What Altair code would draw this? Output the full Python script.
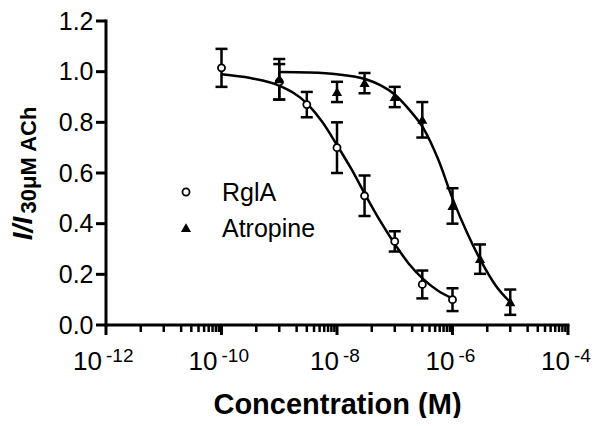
import altair as alt
import pandas as pd

# ---------------- data ----------------
series_names = ["RglA", "Atropine"]

rgla_conc = [1e-10, 1e-9, 3e-9, 1e-8, 3e-8, 1e-7, 3e-7, 1e-6]
rgla_mean = [1.015, 0.96, 0.87, 0.70, 0.51, 0.33, 0.16, 0.10]
rgla_err = [0.075, 0.07, 0.05, 0.10, 0.08, 0.04, 0.055, 0.045]

atro_conc = [1e-9, 1e-8, 3e-8, 1e-7, 3e-7, 1e-6, 3e-6, 1e-5]
atro_mean = [0.97, 0.92, 0.955, 0.90, 0.81, 0.47, 0.26, 0.09]
atro_err = [0.08, 0.04, 0.04, 0.04, 0.07, 0.07, 0.058, 0.05]

# fitted curves
rgla_fit_conc = [1e-10, 3.16e-10, 1e-9, 3.16e-9, 5.62e-9, 1e-8, 1.78e-8, 3.16e-8,
                 5.62e-8, 1e-7, 1.78e-7, 3.16e-7, 5.62e-7, 1e-6]
rgla_fit = [0.99, 0.975, 0.945, 0.87, 0.80, 0.71, 0.615, 0.51,
            0.41, 0.32, 0.24, 0.18, 0.135, 0.105]
atro_fit_conc = [1e-9, 3.16e-9, 1e-8, 3.16e-8, 5.62e-8, 1e-7, 1.78e-7, 3.16e-7,
                 5.62e-7, 1e-6, 1.78e-6, 3.16e-6, 5.62e-6, 1e-5]
atro_fit = [0.999, 0.997, 0.99, 0.97, 0.947, 0.91, 0.85, 0.775,
            0.655, 0.50, 0.365, 0.25, 0.155, 0.09]

y_ticks = [0.0, 0.2, 0.4, 0.6, 0.8, 1.0, 1.2]
x_major_conc = [1e-12, 1e-10, 1e-8, 1e-6, 1e-4]
x_major_exp = ["-12", "-10", "-8", "-6", "-4"]
x_minor_conc = [4e-12, 1e-11, 2e-11, 3e-11, 4e-11, 5e-11, 6e-11, 7e-11, 8e-11, 9e-11,
                4e-10, 1e-9, 2e-9, 3e-9, 4e-9, 5e-9, 6e-9, 7e-9, 8e-9, 9e-9,
                4e-8, 1e-7, 2e-7, 3e-7, 4e-7, 5e-7, 6e-7, 7e-7, 8e-7, 9e-7,
                4e-6, 1e-5, 2e-5, 3e-5, 4e-5, 5e-5, 6e-5, 7e-5, 8e-5, 9e-5]

x_title = "Concentration (M)"
y_title_main = "I/I"
y_title_sub = "30μM ACh"

# ---------------- tables ----------------
pts = pd.DataFrame({
    "conc": rgla_conc + atro_conc,
    "mean": rgla_mean + atro_mean,
    "err": rgla_err + atro_err,
    "series": [series_names[0]] * len(rgla_conc) + [series_names[1]] * len(atro_conc),
})
pts["lo"] = pts["mean"] - pts["err"]
pts["hi"] = pts["mean"] + pts["err"]

fit = pd.DataFrame({
    "conc": rgla_fit_conc + atro_fit_conc,
    "val": rgla_fit + atro_fit,
    "series": [series_names[0]] * len(rgla_fit_conc) + [series_names[1]] * len(atro_fit_conc),
})

major = pd.DataFrame({"conc": x_major_conc, "exp": x_major_exp, "base": ["10"] * 5})
major["long"] = major["exp"].str.len() > 2
major_pos = pd.DataFrame({"tick_c": x_major_conc})
minor = pd.DataFrame({"conc": x_minor_conc})
yt = pd.DataFrame({"tick_v": y_ticks})

# axis frame as two polylines through the scales
frame = pd.DataFrame({
    "fc": [x_major_conc[0], x_major_conc[-1], x_major_conc[0], x_major_conc[0]],
    "fv": [y_ticks[0], y_ticks[0], y_ticks[0], y_ticks[-1]],
    "side": ["x", "x", "y", "y"],
})

W, H = 462, 304
TOP = 13
FONT = "Liberation Sans"
BLACK = "black"

xscale = alt.Scale(type="log", domain=[1e-12, 1e-4], nice=False)
yscale = alt.Scale(domain=[0, 1.2], nice=False, zero=False)

xaxis = alt.Axis(values=x_major_conc, labels=False, tickSize=10, grid=False,
                 domain=False, ticks=True, tickOpacity=0,
                 title=x_title, titleFont=FONT, titleFontSize=29,
                 titleFontWeight="bold", titleBaseline="alphabetic",
                 titleY=88, titleX=W / 2, titleAlign="center", titleColor=BLACK)
yaxis = alt.Axis(values=y_ticks, format=".1f", tickSize=10, labelPadding=3,
                 domain=False, ticks=True, tickOpacity=0,
                 labelFont=FONT, labelFontSize=25, labelColor=BLACK,
                 grid=False, title=None)

def X(field="conc:Q"):
    return alt.X(field, scale=xscale, axis=xaxis)

def Yf(field):
    return alt.Y(field, scale=yscale, axis=yaxis)

# axis lines drawn as lines, major ticks drawn as path-shaped point symbols
frame_lines = alt.Chart(frame).mark_line(color=BLACK, strokeWidth=3, strokeCap="square").encode(
    x=X("fc:Q"), y=Yf("fv:Q"), detail="side:N")
y_tk = alt.Chart(yt).mark_point(shape="M-1,0L1,0", size=100, filled=False,
                                color=BLACK, strokeWidth=3, opacity=1).encode(
    x=alt.value(-5), y=Yf("tick_v:Q"))
x_tk = alt.Chart(major_pos).mark_point(shape="M0,-1L0,1", size=100, filled=False,
                                       color=BLACK, strokeWidth=3, opacity=1).encode(
    x=X("tick_c:Q"), y=alt.value(H + 5))
minor_ticks = alt.Chart(minor).mark_rule(color=BLACK, strokeWidth=2.5).encode(
    x=X(), y=alt.value(H), y2=alt.value(H + 7))

curves = alt.Chart(fit).mark_line(color=BLACK, strokeWidth=2.5, interpolate="monotone").encode(
    x=X(), y=Yf("val:Q"), detail="series:N")

bars = alt.Chart(pts).mark_rule(color=BLACK, strokeWidth=2.5).encode(
    x=X(), y=Yf("lo:Q"), y2="hi:Q")
cap_lo = alt.Chart(pts).mark_tick(color=BLACK, orient="horizontal", size=12,
                                  thickness=2.5, opacity=1).encode(
    x=X(), y=Yf("lo:Q"))
cap_hi = alt.Chart(pts).mark_tick(color=BLACK, orient="horizontal", size=12,
                                  thickness=2.5, opacity=1).encode(
    x=X(), y=Yf("hi:Q"))

shape_scale = alt.Scale(domain=series_names, range=["circle", "triangle-up"])
fill_scale = alt.Scale(domain=series_names, range=["white", "black"])

points = alt.Chart(pts).mark_point(filled=True, stroke=BLACK, strokeWidth=1.8,
                                   size=50, opacity=1).encode(
    x=X(), y=Yf("mean:Q"),
    shape=alt.Shape("series:N", scale=shape_scale, legend=None),
    fill=alt.Fill("series:N", scale=fill_scale, legend=None),
)

# hand-placed legend (symbol + label per series)
leg_layers = []
for i, name in enumerate(series_names):
    d = pd.DataFrame({"series": [name]})
    cy = 192 - 8 - TOP + i * 36
    leg_layers.append(alt.Chart(d).mark_point(filled=True, stroke=BLACK, strokeWidth=1.8,
                                              size=50, opacity=1).encode(
        x=alt.value(80), y=alt.value(cy),
        shape=alt.Shape("series:N", scale=shape_scale, legend=None),
        fill=alt.Fill("series:N", scale=fill_scale, legend=None)))
    leg_layers.append(alt.Chart(d).mark_text(font=FONT, fontSize=25, align="left",
                                             baseline="middle", color=BLACK).encode(
        x=alt.value(116), y=alt.value(cy + 1), text="series:N"))

def xlabels(is_long, dx_base, dx_exp):
    d = major[major["long"] == is_long]
    base = alt.Chart(d).mark_text(font=FONT, fontSize=26, align="right",
                                  baseline="alphabetic", dx=dx_base, color=BLACK).encode(
        x=X(), y=alt.value(H + 45), text="base:N")
    exp = alt.Chart(d).mark_text(font=FONT, fontSize=19, align="left",
                                 baseline="alphabetic", dx=dx_exp, color=BLACK).encode(
        x=X(), y=alt.value(H + 37), text="exp:N")
    return base + exp

lab_long = xlabels(True, -4, 0)
lab_short = xlabels(False, 2, 6)

ytitle_main = alt.Chart(pd.DataFrame({"t": [y_title_main]})).mark_text(
    font=FONT, fontSize=28, fontWeight="bold", fontStyle="italic", angle=270,
    align="center", baseline="alphabetic", color=BLACK).encode(
    x=alt.value(-74), y=alt.value(228.5 - 8 - TOP), text="t:N")
ytitle_sub = alt.Chart(pd.DataFrame({"t": [y_title_sub]})).mark_text(
    font=FONT, fontSize=22, fontWeight="bold", angle=270,
    align="center", baseline="alphabetic", color=BLACK).encode(
    x=alt.value(-70), y=alt.value(160 - 8 - TOP), text="t:N")

chart = alt.layer(
    frame_lines, y_tk, x_tk, minor_ticks,
    curves, bars, cap_lo, cap_hi, points,
    lab_long, lab_short, ytitle_main, ytitle_sub, *leg_layers
).properties(
    width=W, height=H,
    background="white",
    autosize=alt.AutoSizeParams(type="none"),
    padding={"left": 98, "top": TOP, "right": 25, "bottom": 93},
).configure_view(stroke=None)

chart.save("out.html", embed_options={"renderer": "svg", "actions": False})
